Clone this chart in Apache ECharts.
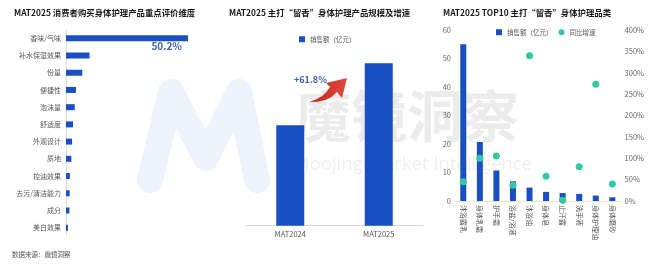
<!DOCTYPE html>
<html>
<head>
<meta charset="utf-8">
<script src="https://cdn.jsdelivr.net/npm/echarts@6/dist/echarts.min.js"></script>
<style>
  html, body { margin: 0; padding: 0; background: #fff; }
  #chart { width: 660px; height: 266px; }
</style>
</head>
<body>
<div id="chart"></div>
<script>
// Panel 1: key evaluation dimensions (share of mentions, %)
const dimCategories = ['香味/气味', '补水保湿效果', '份量', '便捷性', '泡沫量', '舒适度', '外观设计', '质地', '控油效果', '去污/清洁能力', '成分', '美白效果'];
const dimValues = [50.2, 9.7, 6.7, 4.1, 3.6, 2.9, 2.5, 2.2, 1.6, 1.5, 1.4, 0.8];

// Panel 2: market size of fragrance-focused body care (亿元)
const periodCategories = ['MAT2024', 'MAT2025'];
const periodSales = [50.0, 80.9];

// Panel 3: TOP10 categories, sales (亿元) and YoY growth (%)
const topCategories = ['沐浴露乳', '身体乳霜', '护手霜', '浴盐/浴液', '沐浴油', '身体皂', '止汗露', '洗手液', '身体护理油', '身体磨砂'];
const topSales = [55.0, 20.7, 10.7, 6.9, 4.7, 3.2, 2.8, 2.5, 1.9, 1.3];
const topGrowth = [45, 100, 105, 37, 340, 58, 2, 80, 273, 40];
const salesTicks = [0, 10, 20, 30, 40, 50, 60];
const growthTicks = [0, 50, 100, 150, 200, 250, 300, 350, 400];

const FONT = '"Noto Sans CJK SC", "Noto Sans", sans-serif';
const BLUE = '#1a4fc4';
const TEAL = '#33c7a3';
const growthPct = ((periodSales[1] / periodSales[0] - 1) * 100).toFixed(1);

const chart = echarts.init(document.getElementById('chart'), null, { renderer: 'canvas' });

const titleStyle = { fontFamily: FONT, fontSize: 8.4, fontWeight: 'bold', color: '#1a1a1a' };
const legendText = { fontFamily: FONT, fontSize: 6.5, color: '#555' };

// curved growth arrow outline (tapered body + head)
const arrowOutline = [
  [309, 102], [315.9, 99.6], [321.8, 96.3], [326.4, 92.1], [330, 87],
  [326, 83], [347, 78], [342, 98], [337, 92],
  [331.9, 96.8], [325.5, 100], [317.9, 101.8]
];

chart.setOption({
  animation: false,
  backgroundColor: '#fff',
  title: [
    { text: 'MAT2025 消费者购买身体护理产品重点评价维度', left: 14, top: 9, padding: 0, textStyle: titleStyle },
    { text: 'MAT2025 主打“留香”身体护理产品规模及增速', left: 229, top: 9, padding: 0, textStyle: titleStyle },
    { text: 'MAT2025 TOP10 主打“留香”身体护理品类', left: 443, top: 9, padding: 0, textStyle: titleStyle },
    { text: '数据来源：魔镜洞察', left: 12, top: 251, padding: 0,
      textStyle: { fontFamily: FONT, fontSize: 6.5, fontWeight: 'normal', color: '#555' } }
  ],
  legend: [
    { data: ['销售额（亿元）'], left: 299, top: 36, padding: 0, itemWidth: 6, itemHeight: 6, itemGap: 6,
      icon: 'rect', textStyle: legendText, selectedMode: false },
    { data: [{ name: '销售额（亿元）', icon: 'rect' }, { name: '同比增速', icon: 'circle' }],
      left: 496, top: 29, padding: 0, itemWidth: 6, itemHeight: 6, itemGap: 6,
      textStyle: legendText, selectedMode: false }
  ],
  graphic: [
    // brand watermark: logo mark and name
    { type: 'polyline', z: 0, silent: true,
      shape: { points: [[150, 180], [171, 92], [206, 158], [239, 92], [257, 180]] },
      style: { stroke: '#eef2fb', lineWidth: 26, lineCap: 'round', lineJoin: 'round', fill: null } },
    { type: 'text', z: 0, silent: true, x: 295, y: 88,
      style: { text: '魔镜洞察', font: 'bold 56px "Noto Sans CJK SC"', fill: 'rgba(0,0,0,0.08)' } },
    { type: 'text', z: 0, silent: true, x: 293, y: 155,
      style: { text: 'Moojing Market Intelligence', font: '18.5px "Open Sans"', fill: 'rgba(0,0,0,0.07)' } },
    // growth arrow between the two periods
    { type: 'polygon', z: 10, silent: true,
      shape: { points: arrowOutline },
      style: { fill: { type: 'linear', x: 0, y: 0, x2: 1, y2: 0,
        colorStops: [{ offset: 0, color: '#b82a22' }, { offset: 1, color: '#e2483b' }] } } },
    { type: 'text', z: 10, silent: true, x: 294, y: 75,
      style: { text: '+' + growthPct + '%', font: 'bold 9px "Noto Sans CJK SC"', fill: '#3a5fb2' } }
  ],
  grid: [
    { left: 66, top: 29.7, width: 145.8, height: 206.6 },
    { left: 246, top: 25, width: 177, height: 200.7 },
    { left: 455, top: 30, width: 165.6, height: 171 }
  ],
  xAxis: [
    { gridIndex: 0, type: 'value', min: 0, max: 60, show: false },
    { gridIndex: 1, type: 'category', data: periodCategories,
      axisLine: { lineStyle: { color: '#d9d9d9' } }, axisTick: { show: false },
      axisLabel: { fontFamily: FONT, fontSize: 7.5, color: '#555', margin: 5 } },
    { gridIndex: 2, type: 'category', data: topCategories,
      axisLine: { lineStyle: { color: '#ebe4c6' } }, axisTick: { show: false },
      axisLabel: { fontFamily: FONT, fontSize: 7, color: '#555', rotate: -90, margin: 4, interval: 0 } }
  ],
  yAxis: [
    { gridIndex: 0, type: 'category', data: dimCategories, inverse: true,
      axisLine: { lineStyle: { color: '#dcdcdc' } }, axisTick: { show: false },
      axisLabel: { fontFamily: FONT, fontSize: 7, color: '#555', margin: 5 } },
    { gridIndex: 1, type: 'value', min: 0, max: 100, show: false },
    { gridIndex: 2, type: 'value', min: salesTicks[0], max: salesTicks[salesTicks.length - 1], interval: 10,
      splitLine: { show: false }, axisLine: { show: false }, axisTick: { show: false },
      axisLabel: { fontFamily: FONT, fontSize: 7.5, color: '#666', margin: 4 } },
    { gridIndex: 2, type: 'value', min: growthTicks[0], max: growthTicks[growthTicks.length - 1], interval: 50,
      position: 'right', splitLine: { show: false }, axisLine: { show: false }, axisTick: { show: false },
      axisLabel: { fontFamily: FONT, fontSize: 7.5, color: '#666', margin: 4, formatter: '{value}%' } }
  ],
  series: [
    { type: 'bar', xAxisIndex: 0, yAxisIndex: 0, barWidth: 6, z: 2,
      itemStyle: { color: BLUE },
      data: dimValues.map((v, i) => i === 0 ? {
        value: v,
        label: { show: true, position: 'insideRight', distance: 0, offset: [-6, 8], formatter: '{c}%',
          fontFamily: FONT, fontSize: 10, fontWeight: 'bold', color: '#3a62b8' }
      } : v) },
    { type: 'bar', name: '销售额（亿元）', xAxisIndex: 1, yAxisIndex: 1, barWidth: 28, z: 2,
      itemStyle: { color: BLUE }, data: periodSales },
    { type: 'bar', name: '销售额（亿元）', xAxisIndex: 2, yAxisIndex: 2, barWidth: 6, z: 2,
      itemStyle: { color: BLUE }, data: topSales },
    { type: 'scatter', name: '同比增速', xAxisIndex: 2, yAxisIndex: 3, symbolSize: 7, z: 3,
      itemStyle: { color: TEAL, opacity: 1 }, data: topGrowth }
  ]
});
</script>
</body>
</html>
